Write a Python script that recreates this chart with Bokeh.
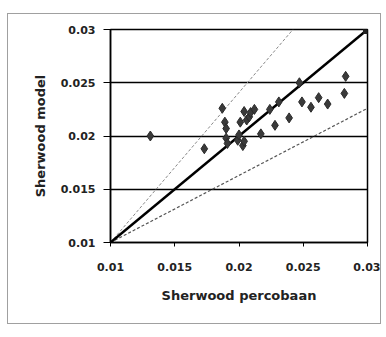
from bokeh.plotting import figure
from bokeh.embed import file_html
from bokeh.resources import INLINE
from bokeh.models import Range1d, FixedTicker

sh_exp = [0.0131, 0.0173, 0.0187, 0.0189, 0.0190, 0.0190, 0.0191, 0.0199, 0.0200, 0.0201,
          0.0203, 0.0204, 0.0204, 0.0206, 0.0208, 0.0209, 0.0212, 0.0217, 0.0224, 0.0228,
          0.0231, 0.0239, 0.0247, 0.0249, 0.0256, 0.0262, 0.0269, 0.0282, 0.0283]
sh_model = [0.0200, 0.0188, 0.0226, 0.0213, 0.0207, 0.0198, 0.0193, 0.0196, 0.0201, 0.0213,
            0.0191, 0.0223, 0.0195, 0.0215, 0.0218, 0.0222, 0.0225, 0.0202, 0.0225, 0.0210,
            0.0232, 0.0217, 0.0250, 0.0232, 0.0227, 0.0236, 0.0230, 0.0240, 0.0256]

ideal_x = [0.01, 0.03]
ideal_y = [0.01, 0.03]
upper_x = [0.01, 0.0242]
upper_y = [0.01, 0.03]
lower_x = [0.01, 0.03]
lower_y = [0.01, 0.0226]
ticks = [0.01, 0.015, 0.02, 0.025, 0.03]

p = figure(width=374, height=311, output_backend="svg", toolbar_location=None,
           x_range=Range1d(0.01, 0.03), y_range=Range1d(0.01, 0.03),
           min_border_left=102, min_border_right=15, min_border_top=15, min_border_bottom=83,
           background_fill_color="white", border_fill_color="white")
p.styles = {"border": "1px solid #a0a0a0", "margin-left": "7px", "margin-top": "13px"}

p.outline_line_color = "black"
p.outline_line_width = 1.5
p.xgrid.visible = False
p.ygrid.grid_line_color = "black"
p.ygrid.grid_line_width = 1.5
p.ygrid.ticker = FixedTicker(ticks=ticks)

for ax in (p.xaxis[0], p.yaxis[0]):
    ax.ticker = FixedTicker(ticks=ticks)
    ax.minor_tick_line_color = None
    ax.major_tick_in = 0
    ax.axis_line_color = "black"
    ax.axis_line_width = 1.5
    ax.major_tick_line_width = 1
    ax.major_label_text_font = "DejaVu Sans"
    ax.major_label_text_font_size = "11px"
    ax.major_label_text_font_style = "bold"
    ax.major_label_text_color = "#222222"
    ax.axis_label_text_font = "DejaVu Sans"
    ax.axis_label_text_font_size = "13px"
    ax.axis_label_text_font_style = "bold"
    ax.axis_label_text_color = "#222222"

p.xaxis.major_tick_out = 4
p.yaxis.major_tick_out = 7
p.xaxis.axis_label = "Sherwood percobaan"
p.yaxis.axis_label = "Sherwood model"
p.xaxis.major_label_standoff = 16
p.yaxis.major_label_standoff = 8
p.xaxis.axis_label_standoff = 14
p.yaxis.axis_label_standoff = 10
p.xaxis.formatter.use_scientific = False
p.yaxis.formatter.use_scientific = False

p.line(upper_x, upper_y, line_color="#888888", line_width=1, line_dash="3 2")
p.line(lower_x, lower_y, line_color="#555555", line_width=1.2, line_dash="3 2")
p.line(ideal_x, ideal_y, line_color="black", line_width=2.5)
p.scatter(ideal_x[1:], ideal_y[1:], marker="square", size=8, color="#222222")

p.scatter(sh_exp, sh_model, marker="diamond", size=10, fill_color="#3a3a3a",
          line_color="#2a2a2a")

open("out.html", "w").write(file_html(p, INLINE))
